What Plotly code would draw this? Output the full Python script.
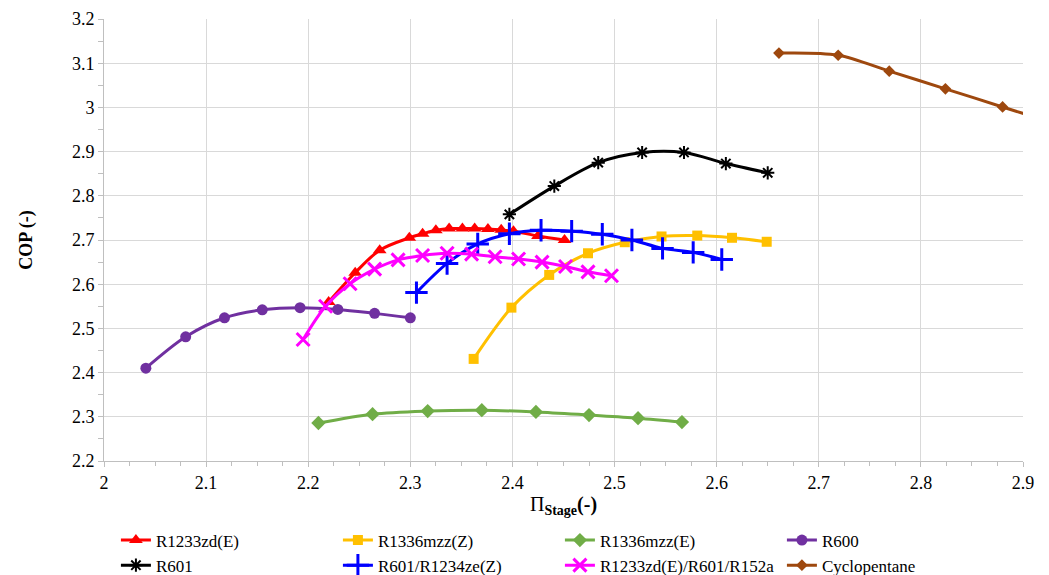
import plotly.graph_objects as go

# ---- data ----
r1233_x = [2.220, 2.246, 2.270, 2.299, 2.312, 2.325, 2.338, 2.351, 2.363, 2.376, 2.389, 2.401, 2.425, 2.451]
r1233_y = [2.560, 2.626, 2.677, 2.705, 2.714, 2.722, 2.726, 2.726, 2.726, 2.725, 2.723, 2.720, 2.709, 2.700]

r1336z_x = [2.362, 2.399, 2.436, 2.474, 2.510, 2.546, 2.581, 2.615, 2.649]
r1336z_y = [2.431, 2.547, 2.621, 2.670, 2.695, 2.708, 2.710, 2.705, 2.696]

r1336e_x = [2.210, 2.263, 2.317, 2.370, 2.423, 2.475, 2.523, 2.566]
r1336e_y = [2.286, 2.306, 2.313, 2.315, 2.311, 2.304, 2.297, 2.288]

r600_x = [2.041, 2.080, 2.118, 2.155, 2.192, 2.229, 2.265, 2.300]
r600_y = [2.410, 2.481, 2.524, 2.542, 2.547, 2.543, 2.534, 2.524]

r601_x = [2.397, 2.441, 2.484, 2.527, 2.568, 2.609, 2.650]
r601_y = [2.758, 2.822, 2.875, 2.898, 2.898, 2.873, 2.852]

r601mix_x = [2.306, 2.336, 2.366, 2.397, 2.428, 2.458, 2.488, 2.517, 2.547, 2.577, 2.605]
r601mix_y = [2.581, 2.647, 2.691, 2.714, 2.722, 2.720, 2.713, 2.700, 2.681, 2.672, 2.656]

tern_x = [2.195, 2.217, 2.241, 2.265, 2.288, 2.312, 2.336, 2.360, 2.383, 2.406, 2.429, 2.452, 2.474, 2.497]
tern_y = [2.475, 2.550, 2.601, 2.634, 2.655, 2.665, 2.670, 2.668, 2.662, 2.657, 2.650, 2.640, 2.628, 2.619]

cyclo_x = [2.661, 2.719, 2.769, 2.824, 2.880, 2.936]
cyclo_y = [3.123, 3.118, 3.082, 3.042, 3.001, 2.960]

x_ticks = [2.0, 2.1, 2.2, 2.3, 2.4, 2.5, 2.6, 2.7, 2.8, 2.9]
x_tick_labels = ["2", "2.1", "2.2", "2.3", "2.4", "2.5", "2.6", "2.7", "2.8", "2.9"]
y_ticks = [2.2, 2.3, 2.4, 2.5, 2.6, 2.7, 2.8, 2.9, 3.0, 3.1, 3.2]
y_tick_labels = ["2.2", "2.3", "2.4", "2.5", "2.6", "2.7", "2.8", "2.9", "3", "3.1", "3.2"]

series = [
    ("R1233zd(E)", r1233_x, r1233_y, "#FF0000", "triangle-up", 12, 0),
    ("R1336mzz(Z)", r1336z_x, r1336z_y, "#FFC000", "square", 10, 0),
    ("R1336mzz(E)", r1336e_x, r1336e_y, "#70AD47", "diamond", 11, 0),
    ("R600", r600_x, r600_y, "#7030A0", "circle", 11, 0),
    ("R601", r601_x, r601_y, "#000000", "asterisk-open", 11, 2),
    ("R601/R1234ze(Z)", r601mix_x, r601mix_y, "#0000FF", "cross-thin-open", 16, 3),
    ("R1233zd(E)/R601/R152a", tern_x, tern_y, "#FF00FF", "x-thin-open", 13, 3),
    ("Cyclopentane", cyclo_x, cyclo_y, "#9E480E", "diamond", 9, 0),
]

FONT = "Liberation Serif"

fig = go.Figure()
for name, xs, ys, col, sym, size, lw in series:
    fig.add_trace(go.Scatter(
        x=xs, y=ys, name=name, mode="lines+markers",
        line=dict(color=col, width=3, shape="spline", smoothing=0.9),
        marker=dict(symbol=sym, size=size, color=col,
                    line=dict(color=col, width=lw)),
    ))

fig.update_layout(
    width=1049, height=575,
    margin=dict(l=104, r=26, t=19, b=114),
    paper_bgcolor="white", plot_bgcolor="white",
    font=dict(family=FONT, size=18, color="black"),
    showlegend=True,
    legend=dict(orientation="h", xref="container", yref="container",
                x=0.1105, y=0.0913, xanchor="left", yanchor="top",
                entrywidth=177, entrywidthmode="pixels",
                font=dict(family=FONT, size=17), tracegroupgap=0,
                itemwidth=30),
    xaxis=dict(
        range=[2.0, 2.9], tickmode="array", tickvals=x_ticks, ticktext=x_tick_labels,
        automargin=False,
        showgrid=True, gridcolor="#d9d9d9", gridwidth=1,
        showline=True, linecolor="#bfbfbf", linewidth=1,
        ticks="outside", ticklen=5, tickcolor="#bfbfbf",
        minor=dict(tickmode="linear", tick0=2.0, dtick=0.025, ticks="outside",
                   ticklen=4, tickcolor="#bfbfbf", showgrid=False),
        zeroline=False,
        title=dict(text="\u03a0<sub><b>Stage</b></sub><b>(-)</b>", font=dict(size=20), standoff=5),
    ),
    yaxis=dict(
        range=[2.2, 3.2], tickmode="array", tickvals=y_ticks, ticktext=y_tick_labels,
        automargin=False,
        showgrid=True, gridcolor="#d9d9d9", gridwidth=1,
        showline=True, linecolor="#bfbfbf", linewidth=1,
        ticks="outside", ticklen=5, tickcolor="#bfbfbf",
        minor=dict(tickmode="linear", tick0=2.2, dtick=0.05, ticks="outside",
                   ticklen=5, tickcolor="#bfbfbf", showgrid=False),
        zeroline=False,
        title=dict(text="<b>COP (-)</b>", font=dict(size=18), standoff=34),
    ),
)

fig.write_html("out.html")
